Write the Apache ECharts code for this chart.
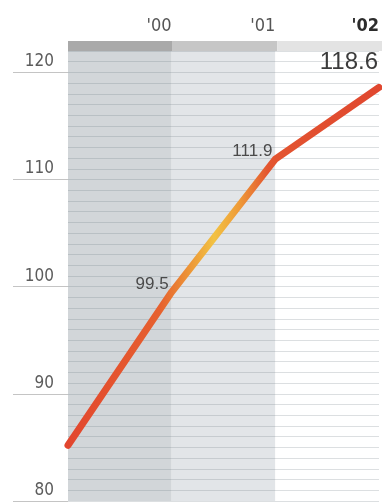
<!DOCTYPE html>
<html>
<head>
<meta charset="utf-8">
<style>
  html, body { margin: 0; padding: 0; background: #ffffff; }
  #chart { width: 382px; height: 502px; }
</style>
<script src="https://cdn.jsdelivr.net/npm/echarts@6/dist/echarts.min.js"></script>
</head>
<body>
<div id="chart"></div>
<script>
// Index level by year; the first point ('99) sits on the left edge, each later year closes its column.
const years = [1999, 2000, 2001, 2002];
const values = [85.2, 99.5, 111.9, 118.6];
const yearLabels = ["'00", "'01", "'02"];
const yTicks = [80, 90, 100, 110, 120];

// column shading under the plot and the header strip above it, one per labelled year
const columnFill = ['#d2d6d9', '#e2e5e8', '#ffffff'];
const headerFill = ['#a9a9a9', '#c6c6c6', '#e3e3e3'];

const LABEL_FONT = "'Liberation Sans Narrow', 'DejaVu Sans Condensed', sans-serif";
const VALUE_FONT = "'Liberation Sans', Arial, sans-serif";
const Y_MIN = 80, Y_MAX = 122;
const LAST = values.length - 1;

const bands = (fills) => fills.map((c, i) => [
  { xAxis: years[i], itemStyle: { color: c } },
  { xAxis: years[i + 1] },
]);

// per-point value labels: none on the starting point, bigger on the latest year
const lineData = values.map((v, i) => ({
  value: [years[i], v],
  label: {
    show: i > 0,
    position: 'left',
    distance: i === LAST ? 0 : 2,
    fontSize: i === LAST ? 24 : 17,
    color: i === LAST ? '#3c3c3c' : '#4a4a4a',
  },
}));

const chart = echarts.init(document.getElementById('chart'), null, { renderer: 'canvas' });
chart.setOption({
  backgroundColor: '#ffffff',
  animation: false,
  grid: [
    { left: 68, right: 0, top: 51, bottom: 1 },
    { left: 68, right: 0, top: 41, height: 10 },
  ],
  xAxis: [
    {
      gridIndex: 0, type: 'value', position: 'top', min: years[0], max: years[LAST], interval: 1,
      axisLine: { show: false }, axisTick: { show: false }, splitLine: { show: false },
      axisLabel: {
        showMinLabel: false, align: 'right', margin: 16,
        fontFamily: LABEL_FONT, fontSize: 18, color: '#555',
        formatter: (v) => {
          const i = years.indexOf(v) - 1;
          if (i < 0) return '';
          return i === yearLabels.length - 1 ? `{b|${yearLabels[i]}}` : yearLabels[i];
        },
        rich: { b: { fontFamily: LABEL_FONT, fontSize: 18, fontWeight: 'bold', color: '#2c2c2c' } },
      },
    },
    { gridIndex: 1, type: 'value', min: years[0], max: years[LAST], show: false },
  ],
  yAxis: [
    {
      gridIndex: 0, type: 'value', min: Y_MIN, max: Y_MAX, interval: 10,
      axisLine: { show: false }, splitLine: { show: false },
      axisTick: { show: true, customValues: yTicks, length: 55, lineStyle: { color: '#c4c4c4', width: 1 } },
      axisLabel: {
        customValues: yTicks, margin: 14, verticalAlign: 'bottom', padding: [0, 0, 2, 0],
        fontFamily: LABEL_FONT, fontSize: 17, color: '#5c5c5c',
      },
    },
    {
      gridIndex: 0, type: 'value', min: Y_MIN, max: Y_MAX, interval: 1,
      axisLine: { show: false }, axisTick: { show: false }, axisLabel: { show: false },
      splitLine: { show: true, lineStyle: { color: 'rgba(110,120,130,0.24)', width: 1 } },
    },
    { gridIndex: 1, type: 'value', min: 0, max: 1, show: false },
  ],
  series: [
    {
      name: 'columns', type: 'line', xAxisIndex: 0, yAxisIndex: 0, data: [], z: -2, silent: true,
      markArea: { silent: true, z: -2, data: bands(columnFill) },
    },
    {
      name: 'header', type: 'line', xAxisIndex: 1, yAxisIndex: 2, data: [], silent: true,
      markArea: { silent: true, data: bands(headerFill) },
    },
    {
      name: 'index', type: 'line', xAxisIndex: 0, yAxisIndex: 0, z: 5,
      data: lineData, showSymbol: true, showAllSymbol: true, symbol: 'circle', symbolSize: 2,
      itemStyle: { color: 'rgba(0,0,0,0)', borderWidth: 0 }, smooth: false, clip: false,
      lineStyle: {
        width: 7, cap: 'round', join: 'round',
        color: new echarts.graphic.LinearGradient(0, 0, 1, 0, [
          { offset: 0, color: '#e2452e' },
          { offset: 0.3, color: '#e6612f' },
          { offset: 0.4, color: '#ed9a38' },
          { offset: 0.47, color: '#f2c243' },
          { offset: 0.55, color: '#ee9a38' },
          { offset: 0.64, color: '#e35530' },
          { offset: 1, color: '#e0472f' },
        ]),
      },
      label: { show: true, fontFamily: VALUE_FONT, formatter: (p) => p.value[1].toFixed(1) },
      // lift the value labels above the line; the latest one sits higher, clear of the stroke
      labelLayout: (p) => ({ dy: p.dataIndex === LAST ? -25 : -8, hideOverlap: false }),
    },
  ],
});
</script>
</body>
</html>
